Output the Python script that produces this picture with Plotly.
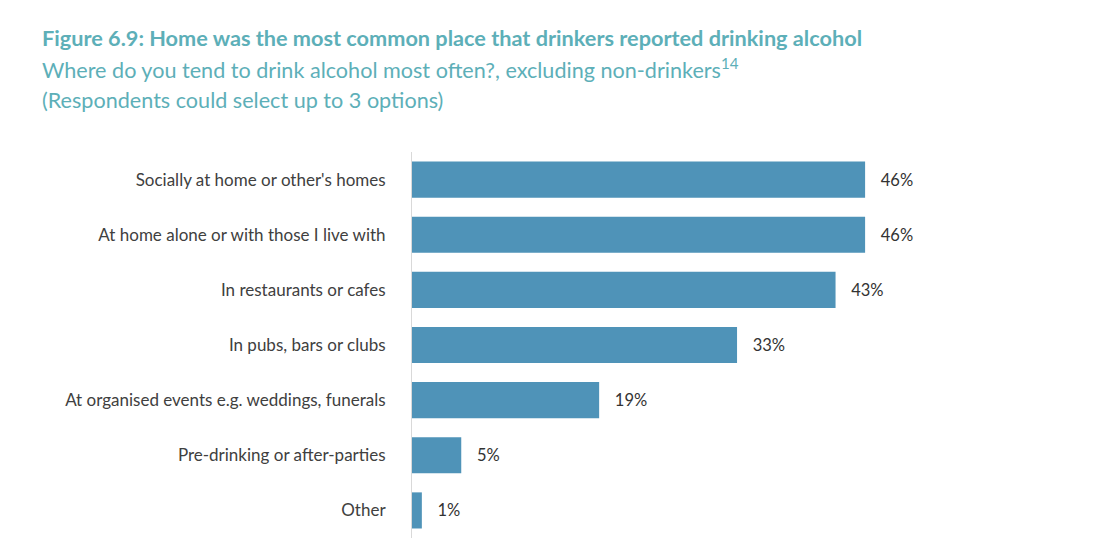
import plotly.graph_objects as go

categories = [
    "Socially at home or other's homes",
    "At home alone or with those I live with",
    "In restaurants or cafes",
    "In pubs, bars or clubs",
    "At organised events e.g. weddings, funerals",
    "Pre-drinking or after-parties",
    "Other",
]
values = [46, 46, 43, 33, 19, 5, 1]

title_lines = [
    "<b>Figure 6.9: Home was the most common place that drinkers reported drinking alcohol</b>",
    "Where do you tend to drink alcohol most often?, excluding non-drinkers<sup>14</sup>",
    "(Respondents could select up to 3 options)",
]

W, H = 1112, 554
OFF = 8  # page body margin offset
ml, mr, mt, mb = 412 - OFF, 109 + OFF, 152 - OFF, 16 + OFF
pw = W - ml - mr
ph = H - mt - mb

font_fam = "Lato, Open Sans, sans-serif"

fig = go.Figure(go.Bar(
    x=values,
    y=categories,
    orientation="h",
    marker=dict(color="#4F93B8", line=dict(width=0)),
    text=[f"{v}%" for v in values],
    texttemplate="   %{text}",
    textposition="outside",
    textfont=dict(family=font_fam, size=16.5, color="#333333"),
    cliponaxis=False,
))

title_y_px = [38, 69, 100]
title_sizes = [21.7, 21.6, 21.6]
for txt, ypx, sz in zip(title_lines, title_y_px, title_sizes):
    fig.add_annotation(
        text=txt, xref="paper", yref="paper",
        x=(40 - OFF - ml) / pw, y=(H - mb - (ypx - OFF)) / ph,
        xanchor="left", yanchor="middle", showarrow=False,
        font=dict(family=font_fam, size=sz, color="#5DAFB8"),
    )

fig.update_layout(
    width=W, height=H,
    margin=dict(l=ml, r=mr, t=mt, b=mb),
    paper_bgcolor="white", plot_bgcolor="white",
    bargap=0.345,
    showlegend=False,
    xaxis=dict(range=[0, 60], visible=False, fixedrange=True),
    yaxis=dict(
        categoryorder="array", categoryarray=categories[::-1],
        showline=True, linecolor="#D9D9D9", linewidth=1,
        ticks="", ticklabelstandoff=22,
        tickfont=dict(family=font_fam, size=17, color="#404040"),
        showgrid=False,
    ),
)

fig.write_html("out.html")
